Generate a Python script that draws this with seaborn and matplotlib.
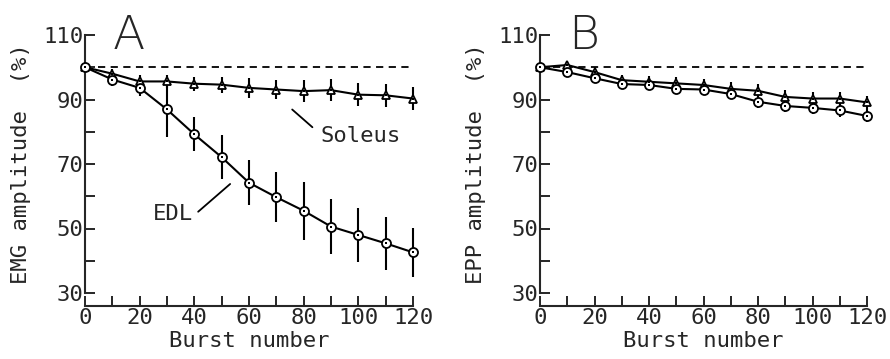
import numpy as np
import pandas as pd
import matplotlib
matplotlib.use("Agg")
import matplotlib.pyplot as plt
import seaborn as sns
from matplotlib.ticker import MultipleLocator, FixedLocator

# Data (mean amplitude in % of first burst, +/- error)
bursts = [0, 10, 20, 30, 40, 50, 60, 70, 80, 90, 100, 110, 120]

a_soleus = [100, 98.0, 95.6, 95.6, 94.9, 94.6, 93.6, 93.1, 92.6, 92.9, 91.5, 91.3, 90.3]
a_soleus_err = [0, 1.5, 2.0, 2.0, 2.2, 2.5, 3.0, 3.0, 3.5, 3.5, 3.5, 3.5, 3.5]
a_edl = [100, 96.2, 93.6, 86.9, 79.2, 72.1, 64.2, 59.7, 55.5, 50.6, 48.0, 45.4, 42.6]
a_edl_err = [0, 2.0, 2.5, 8.5, 5.3, 6.8, 7.0, 7.8, 9.0, 8.5, 8.3, 8.3, 7.7]

b_tri = [100, 100.7, 98.5, 96.0, 95.5, 95.0, 94.5, 93.3, 92.7, 90.8, 90.3, 90.3, 89.1]
b_tri_err = [0, 1.0, 1.5, 1.5, 1.8, 2.0, 2.0, 2.0, 2.0, 2.0, 2.0, 2.0, 2.0]
b_circ = [100, 98.5, 96.6, 94.8, 94.5, 93.3, 93.1, 91.7, 89.3, 88.0, 87.4, 86.6, 84.9]
b_circ_err = [0, 1.0, 1.2, 1.5, 1.5, 1.5, 1.5, 1.5, 2.0, 2.0, 2.0, 2.0, 2.0]

sns.set_style("ticks")
plt.rcParams['font.family'] = ['DejaVu Sans Mono', 'DejaVu Sans']
plt.rcParams['axes.linewidth'] = 1.5

FS = 16

fig = plt.figure(figsize=(8.9, 3.59), dpi=100)
ax_a = fig.add_axes([85 / 890, 66 / 359, 328 / 890, 258 / 359])
ax_b = fig.add_axes([540 / 890, 66 / 359, 327 / 890, 258 / 359])


def draw_series(ax, y, err, marker, msize):
    df = pd.DataFrame({'burst': bursts, 'amp': y})
    ax.errorbar(df['burst'], df['amp'], yerr=err, fmt='none', ecolor='black',
                elinewidth=1.5, capsize=0, clip_on=False, zorder=2)
    sns.lineplot(data=df, x='burst', y='amp', ax=ax, color='black', lw=1.5,
                 marker=marker, markersize=msize, markerfacecolor='white',
                 markeredgecolor='black', markeredgewidth=1.3,
                 clip_on=False, zorder=3)
    sns.scatterplot(data=df, x='burst', y='amp', ax=ax, color='black', s=2,
                    marker='s', linewidth=0, clip_on=False, zorder=4)


def style_axis(ax, ylabel, letter):
    ax.axhline(100, xmin=0.04, xmax=1.0, color='black', lw=1.3, ls=(0, (4, 3)))
    ax.set_xlim(0, 120)
    ax.set_ylim(30, 110)
    ax.xaxis.set_major_locator(MultipleLocator(20))
    ax.xaxis.set_minor_locator(FixedLocator([10, 30, 50, 70, 90, 110]))
    ax.yaxis.set_major_locator(FixedLocator([30, 50, 70, 90, 110]))
    ax.yaxis.set_minor_locator(FixedLocator([40, 60, 80, 100]))
    ax.tick_params(which='both', direction='in', length=7, width=1.4,
                   labelsize=FS, pad=2)
    ax.tick_params(axis='y', which='both', pad=1)
    ax.spines['top'].set_visible(False)
    ax.spines['right'].set_visible(False)
    ax.spines['bottom'].set_position(('outward', 9))
    ax.set_xlabel('Burst number', fontsize=FS, labelpad=2)
    ax.set_ylabel(ylabel, fontsize=FS, labelpad=9)
    ax.text(0.135, 0.995, letter, transform=ax.transAxes, fontsize=34,
            family='DejaVu Sans', fontweight='light', ha='center', va='center')


draw_series(ax_a, a_soleus, a_soleus_err, '^', 5.5)
draw_series(ax_a, a_edl, a_edl_err, 'o', 6.5)
style_axis(ax_a, 'EMG amplitude  (%)', 'A')

ax_a.text(86, 78.6, 'Soleus', fontsize=FS, va='center', ha='left')
ax_a.plot([75.8, 83.2], [86.9, 81.4], color='black', lw=1.3)
ax_a.text(32, 54.6, 'EDL', fontsize=FS, va='center', ha='center')
ax_a.plot([41.4, 53.1], [55.2, 63.8], color='black', lw=1.3)

draw_series(ax_b, b_tri, b_tri_err, '^', 5.5)
draw_series(ax_b, b_circ, b_circ_err, 'o', 6.5)
style_axis(ax_b, 'EPP amplitude  (%)', 'B')

fig.savefig('out.png', dpi=100)
